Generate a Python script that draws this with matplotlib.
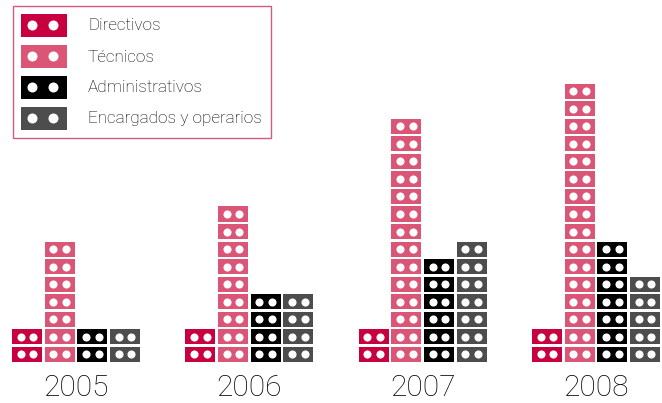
import matplotlib
matplotlib.use("Agg")
import matplotlib.pyplot as plt
from matplotlib.patches import Rectangle, Ellipse
import numpy as np

years = ["2005", "2006", "2007", "2008"]
series = ["Directivos", "Técnicos", "Administrativos", "Encargados y operarios"]
colors = ["#C8003F", "#DB5577", "#000000", "#4D4D4D"]
directivos = [2, 2, 2, 2]
tecnicos = [7, 9, 14, 16]
administrativos = [2, 4, 6, 7]
encargados = [2, 4, 7, 5]
values = [directivos, tecnicos, administrativos, encargados]

W, H = 662, 403
fig = plt.figure(figsize=(W / 100, H / 100), dpi=100)
ax = fig.add_axes([0, 0, 1, 1])
px_group = 173.3
px_row = 17.55
x0px, y0px = 76, 362
ax.set_xlim(-x0px / px_group, (W - x0px) / px_group)
ax.set_ylim((y0px - H) / px_row, y0px / px_row)
ax.axis("off")

pitch = 32.7 / px_group
bw = 30 / px_group
bh = 15.2 / px_row
offsets = (np.arange(4) - 1.5) * pitch

font = dict(family=["Roboto", "DejaVu Sans"], fontweight="light")

for s, (vals, col) in enumerate(zip(values, colors)):
    for g, n in enumerate(vals):
        xc = g + offsets[s]
        rows = np.arange(n)
        ax.bar([xc] * n, [bh] * n, width=bw, bottom=rows, color=col, linewidth=0)
        dx = np.array([-0.21, 0.21]) * bw
        xs = np.repeat(xc + dx[None, :], n, axis=0).ravel()
        ys = np.repeat(rows + bh / 2, 2)
        ax.scatter(xs, ys, s=34, color="white", linewidths=0, zorder=3)

for g, yr in enumerate(years):
    ax.text(g, -1.5, yr, ha="center", va="center", fontsize=21.5, color="#000000", **font)

# legend (pixel coordinates from top-left)
def fx(px):
    return px / W

def fy(py):
    return 1 - py / H

frame = Rectangle((fx(12.5), fy(137.5)), fx(270.5) - fx(12.5), fy(6.5) - fy(137.5),
                  transform=fig.transFigure, fill=False, edgecolor="#D45A80", linewidth=1.0)
fig.add_artist(frame)
for i, (name, col) in enumerate(zip(series, colors)):
    top = 14 + i * 31
    r = Rectangle((fx(21), fy(top + 23)), fx(67) - fx(21), fy(top) - fy(top + 23),
                  transform=fig.transFigure, facecolor=col, edgecolor="none")
    fig.add_artist(r)
    for cxp in (32.5, 53.5):
        c = Ellipse((fx(cxp), fy(top + 11.5)), 10 / W, 10 / H, transform=fig.transFigure,
                    facecolor="white", edgecolor="none")
        fig.add_artist(c)
    fig.text(fx(88), fy(top + 12), name, ha="left", va="center", fontsize=12.3,
             color="#000000", **font)

fig.savefig("out.png", dpi=100)
